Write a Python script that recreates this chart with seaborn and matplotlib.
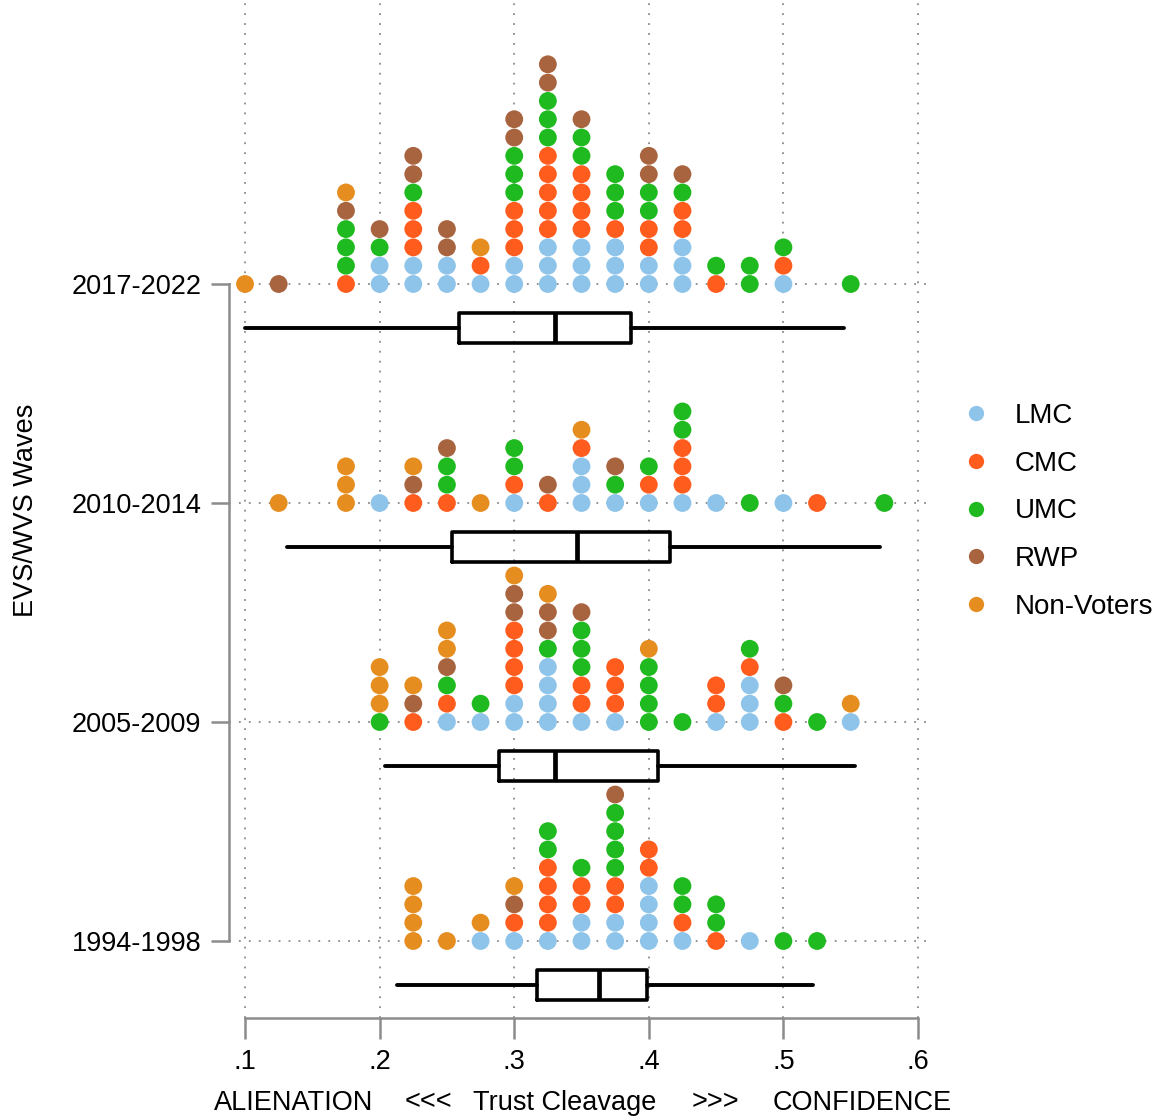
import matplotlib
matplotlib.use("Agg")
import pandas as pd
import matplotlib.pyplot as plt
import seaborn as sns
from matplotlib import font_manager
from matplotlib.lines import Line2D
from matplotlib.transforms import blended_transform_factory

# waves, top to bottom
waves = ["2017-2022", "2010-2014", "2005-2009", "1994-1998"]
groups = ["LMC", "CMC", "UMC", "RWP", "Non-Voters"]
codes = {"L": "LMC", "C": "CMC", "U": "UMC", "R": "RWP", "N": "Non-Voters"}
colors = ["#8EC4EA", "#FF5C1E", "#1FBA1F", "#A8643F", "#E68D1F"]

# dot stacks per bin (bottom -> top), one letter per country-group
stacks_2017 = {0.100: "N", 0.125: "R", 0.175: "CUUURN", 0.200: "LLUR",
               0.225: "LLCCCURR", 0.250: "LLRR", 0.275: "LCN",
               0.300: "LLCCCUUURR", 0.325: "LLLCCCCCUUURR", 0.350: "LLLCCCCUUR",
               0.375: "LLLCUUU", 0.400: "LLCCUURR", 0.425: "LLLCCUR",
               0.450: "CU", 0.475: "UU", 0.500: "LCU", 0.550: "U"}
stacks_2010 = {0.125: "N", 0.175: "NNN", 0.200: "L", 0.225: "CRN",
               0.250: "CUUR", 0.275: "N", 0.300: "LCUU", 0.325: "CR",
               0.350: "LLLCN", 0.375: "LUR", 0.400: "LCU", 0.425: "LCCCUU",
               0.450: "L", 0.475: "U", 0.500: "L", 0.525: "C", 0.575: "U"}
stacks_2005 = {0.200: "UNNN", 0.225: "CRN", 0.250: "LCURNN", 0.275: "LU",
               0.300: "LLCCCCRRN", 0.325: "LLLLURRN", 0.350: "LCCUUUR",
               0.375: "LCCC", 0.400: "UUUUN", 0.425: "U", 0.450: "LCC",
               0.475: "LLLCU", 0.500: "CUR", 0.525: "U", 0.550: "LN"}
stacks_1994 = {0.225: "NNNN", 0.250: "N", 0.275: "LN", 0.300: "LCRN",
               0.325: "LCCCCUU", 0.350: "LLCCU", 0.375: "LLCCUUUUR",
               0.400: "LLLLCC", 0.425: "LCUU", 0.450: "CUU", 0.475: "L",
               0.500: "U", 0.525: "U"}
all_stacks = [stacks_2017, stacks_2010, stacks_2005, stacks_1994]

# box plot summaries per wave
whis_lo = [0.100, 0.131, 0.204, 0.213]
q1 = [0.259, 0.254, 0.289, 0.317]
median = [0.330, 0.347, 0.330, 0.363]
q3 = [0.387, 0.416, 0.407, 0.399]
whis_hi = [0.545, 0.572, 0.553, 0.522]

# fonts
names = {f.name for f in font_manager.fontManager.ttflist}
sns.set_style("white")
if "Liberation Sans Narrow" in names:
    fam, fs, lfs = "Liberation Sans Narrow", 23.5, 23.5
else:
    fam, fs, lfs = "Liberation Sans", 19.5, 20
plt.rcParams["font.family"] = [fam, "DejaVu Sans"]
plt.rcParams["text.color"] = "black"
plt.rcParams["xtick.labelcolor"] = "black"
plt.rcParams["ytick.labelcolor"] = "black"

# long table of dots
wave_pos = {w: len(waves) - 1 - i for i, w in enumerate(waves)}
step = 0.0836
rows = []
for w, stacks in zip(waves, all_stacks):
    for x, s in stacks.items():
        for k, c in enumerate(s):
            rows.append({"wave": w, "x": x, "level": k, "group": codes[c]})
df = pd.DataFrame(rows)
df["y"] = df["wave"].map(wave_pos) + df["level"] * step

fig = plt.figure(figsize=(11.58, 11.2), dpi=100)
ax = fig.add_axes([229 / 1158, 102 / 1120, 701 / 1158, 1018 / 1120])

ax.grid(True, linestyle=(0, (1, 4.5)), linewidth=1.3, color="#8a8a8a")
ax.set_axisbelow(True)

sns.scatterplot(data=df, x="x", y="y", hue="group", hue_order=groups,
                palette=colors, s=165, linewidth=0, legend=False, ax=ax, zorder=3)

# box plots under each wave
stats = [dict(whislo=a, q1=b, med=c, q3=d, whishi=e, fliers=[])
         for a, b, c, d, e in zip(whis_lo, q1, median, q3, whis_hi)]
pos = [wave_pos[w] - 0.2 for w in waves]
bkw = dict(positions=pos, widths=0.137, showcaps=False, showfliers=False,
           boxprops=dict(color="black", lw=2.6),
           whiskerprops=dict(color="black", lw=2.8),
           medianprops=dict(color="black", lw=3.4), manage_ticks=False)
try:
    ax.bxp(stats, orientation="horizontal", **bkw)
except TypeError:
    ax.bxp(stats, vert=False, **bkw)

ax.set_xlim(0.0881, 0.6089)
ax.set_ylim(-0.3516, 4.2968)
ax.set_xticks([0.1, 0.2, 0.3, 0.4, 0.5, 0.6])
ax.set_xticklabels([f"{v:.1f}".lstrip("0") for v in [0.1, 0.2, 0.3, 0.4, 0.5, 0.6]])
ax.set_yticks([wave_pos[w] for w in waves])
ax.set_yticklabels(waves)
ax.set_xlabel("")
ax.set_ylabel("")

for side in ["top", "right"]:
    ax.spines[side].set_visible(False)
ax.spines["left"].set_bounds(0, 3)
ax.spines["bottom"].set_bounds(0.1, 0.6)
for side in ["left", "bottom"]:
    ax.spines[side].set_color("#8c8c8c")
    ax.spines[side].set_linewidth(1.8)
ax.tick_params(axis="y", length=13, width=1.8, color="#8c8c8c", pad=7, labelsize=fs, left=True)
ax.tick_params(axis="x", length=15, width=1.8, color="#8c8c8c", pad=7, labelsize=fs, bottom=True)

# axis title pieces
tr = blended_transform_factory(ax.transData, fig.transFigure)
for xpos, txt in [(0.1364, "ALIENATION"), (0.236, "<<<"), (0.3377, "Trust Cleavage"),
                  (0.4492, ">>>"), (0.5584, "CONFIDENCE")]:
    ax.text(xpos, 0.004, txt, transform=tr, ha="center", va="bottom", fontsize=fs, clip_on=False)
fig.text(26 / 1158, 1 - 510 / 1120, "EVS/WVS Waves", rotation=90, ha="center", va="center", fontsize=fs)

handles = [Line2D([], [], marker="o", ls="", color=c, markersize=11, markeredgewidth=0)
           for c in colors]
fig.legend(handles, groups, loc="center left", bbox_to_anchor=(962 / 1158, 1 - 511.5 / 1120),
           frameon=False, fontsize=lfs, handlelength=1.0, handletextpad=0.9,
           labelspacing=0.78, borderpad=0, borderaxespad=0)

fig.savefig("out.png", dpi=100)
